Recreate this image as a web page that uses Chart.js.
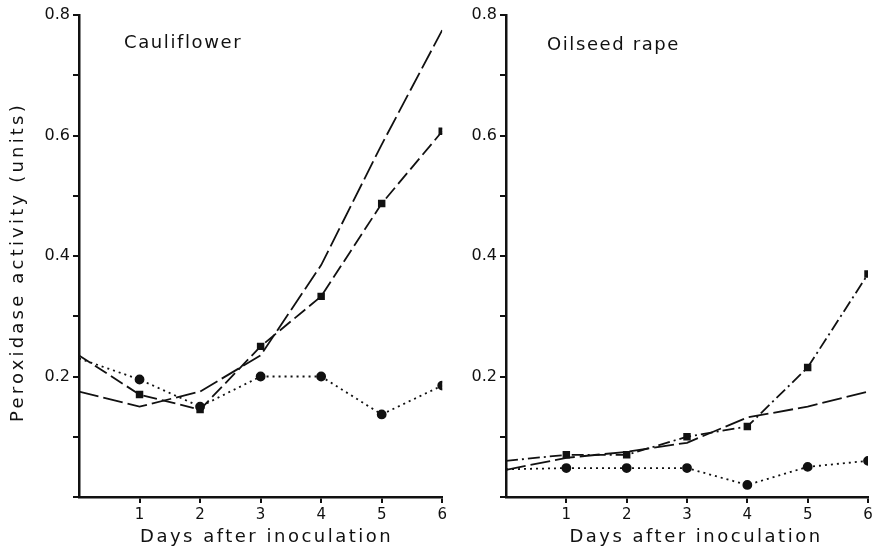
<!DOCTYPE html>
<html>
<head>
<meta charset="utf-8">
<script src="https://cdn.jsdelivr.net/npm/chart.js@4/dist/chart.umd.min.js"></script>
<style>
  body { margin: 0; background: #fff; }
  #wrap { position: relative; width: 877px; height: 556px; }
  .panel { position: absolute; top: 0; height: 556px; }
</style>
</head>
<body>
<div id="wrap">
  <div class="panel" style="left:0;width:450px"><canvas id="cauli"></canvas></div>
  <div class="panel" style="left:450px;width:427px"><canvas id="rape"></canvas></div>
</div>
<script>
const days = [0, 1, 2, 3, 4, 5, 6];
const yLabels = ['0.2', '0.4', '0.6', '0.8'];

const cauliCircle = [0.23, 0.195, 0.15, 0.2, 0.2, 0.137, 0.185];
const cauliSquare = [0.235, 0.17, 0.145, 0.25, 0.333, 0.487, 0.607];
const cauliPlain = [0.175, 0.15, 0.175, 0.235, 0.385, 0.585, 0.775];

const rapeCircle = [0.046, 0.048, 0.048, 0.048, 0.02, 0.05, 0.06];
const rapeSquare = [0.06, 0.07, 0.07, 0.1, 0.117, 0.215, 0.37];
const rapePlain = [0.045, 0.065, 0.075, 0.09, 0.132, 0.15, 0.175];

Chart.defaults.font.family = 'DejaVu Sans';
Chart.defaults.font.size = 15;
Chart.defaults.color = '#111';

function pts(vals) {
  return days.map((d, i) => ({ x: d, y: vals[i] }));
}

// panel name plus the axis titles, drawn with wider letter spacing like the scan
const labels = {
  id: 'labels',
  afterDraw(chart, args, opts) {
    const c = chart.ctx;
    const area = chart.chartArea;
    c.save();
    c.fillStyle = '#111';
    c.letterSpacing = '1.6px';
    c.font = '18px DejaVu Sans';
    c.textBaseline = 'middle';
    c.fillText(opts.text, opts.x, opts.y);
    c.letterSpacing = '2.5px';
    c.font = '18px DejaVu Sans';
    c.textAlign = 'center';
    c.fillText('Days after inoculation', (area.left + area.right) / 2 + opts.xShift, 537);
    if (opts.yTitle) {
      c.letterSpacing = '3.2px';
      c.translate(18, 262);
      c.rotate(-Math.PI / 2);
      c.fillText('Peroxidase activity (units)', 0, 0);
    }
    c.restore();
  }
};

function makeChart(id, title, circle, square, plain, squareDash, opt) {
  const hideFirst = ctx => ctx.dataIndex === 0 ? 0 : 4;
  new Chart(document.getElementById(id), {
    type: 'line',
    data: {
      datasets: [
        { data: pts(circle), borderColor: '#111', backgroundColor: '#111', borderWidth: 1.8,
          borderDash: [2, 4], pointStyle: 'circle', pointRadius: hideFirst },
        { data: pts(square), borderColor: '#111', backgroundColor: '#111', borderWidth: 1.8,
          borderDash: squareDash, pointStyle: 'rect', pointRadius: hideFirst },
        { data: pts(plain), borderColor: '#111', borderWidth: 1.8,
          borderDash: [20, 5], pointRadius: 0 }
      ]
    },
    options: {
      responsive: true,
      maintainAspectRatio: false,
      animation: false,
      layout: { padding: { top: 15, right: opt.padRight, left: 0, bottom: 0 } },
      plugins: {
        legend: { display: false },
        tooltip: { enabled: false },
        labels: { text: title, x: opt.titleX, y: opt.titleY, yTitle: opt.yTitle, xShift: opt.xShift }
      },
      scales: {
        x: {
          type: 'linear', min: 0, max: 6,
          grid: {
            drawOnChartArea: false, tickLength: 6, lineWidth: 2,
            color: ctx => ctx.tick && ctx.tick.value === 0 ? 'rgba(0,0,0,0)' : '#111'
          },
          border: { color: '#111', width: 2.5 },
          ticks: { stepSize: 1, padding: 3, callback: v => v === 0 ? '' : String(v) },
          afterFit: s => { s.height = 59; }
        },
        y: {
          min: 0, max: 0.8,
          grid: { drawOnChartArea: false, tickLength: 6, color: '#111', lineWidth: 2 },
          border: { color: '#111', width: 2.5 },
          ticks: {
            stepSize: 0.1, padding: 3, font: { size: 16 },
            callback: v => {
              const k = Math.round(v * 10);
              return (k % 2 === 0 && k > 0) ? yLabels[k / 2 - 1] : '';
            }
          },
          afterFit: s => { s.width = opt.yWidth; }
        }
      }
    },
    plugins: [labels]
  });
}

makeChart('cauli', 'Cauliflower', cauliCircle, cauliSquare, cauliPlain, [14, 5],
  { padRight: 6, yWidth: 79, yTitle: true, titleX: 124, titleY: 43, xShift: 6 });
makeChart('rape', 'Oilseed rape', rapeCircle, rapeSquare, rapePlain, [12, 4, 2, 4],
  { padRight: 9, yWidth: 56, yTitle: false, titleX: 97, titleY: 45, xShift: 9 });
</script>
</body>
</html>
